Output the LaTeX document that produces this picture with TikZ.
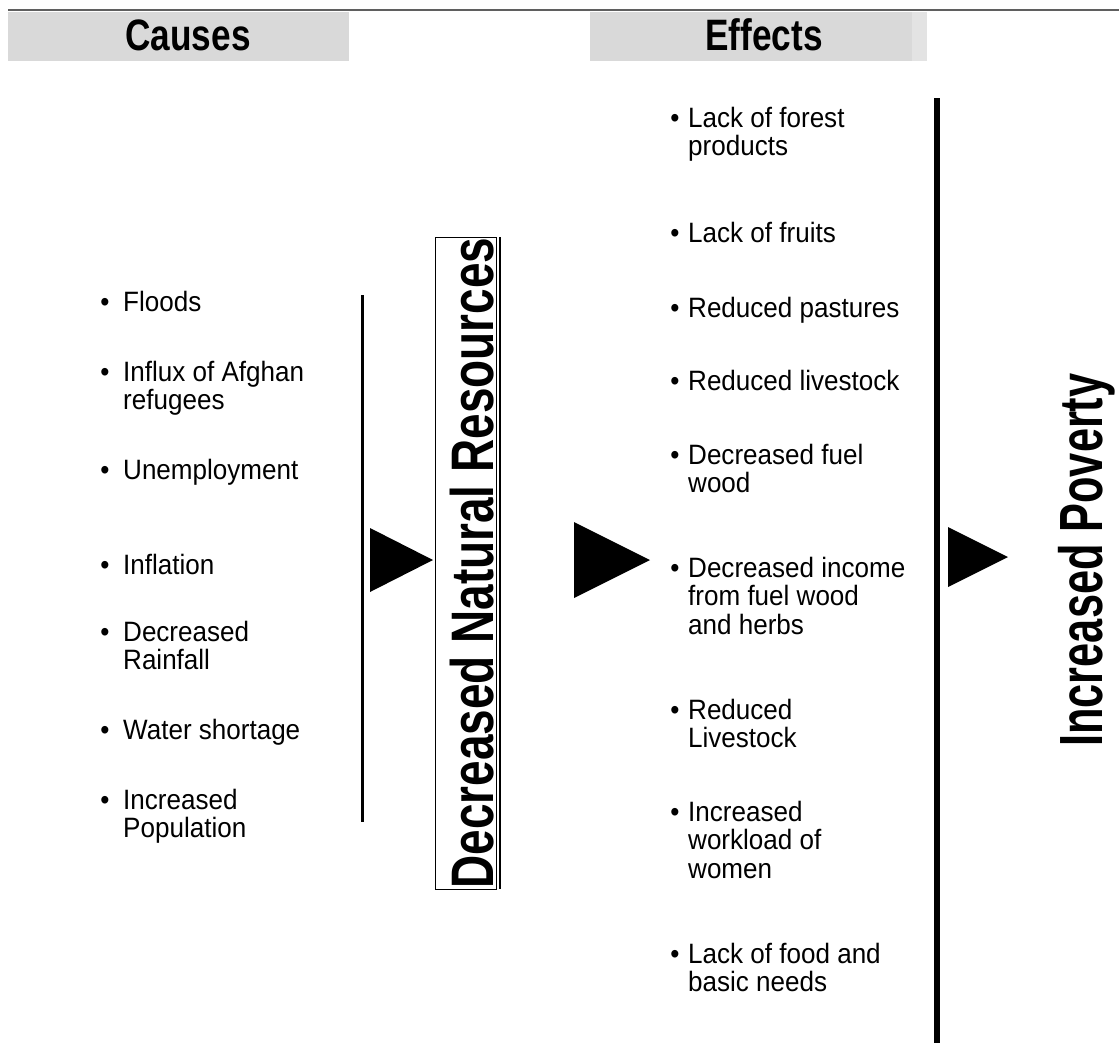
\documentclass[tikz,border=0pt]{standalone}
\usepackage{fontspec}
\setmainfont{Liberation Sans}
\newfontfamily\bodyfont[FakeStretch=0.93]{Liberation Sans}
\newfontfamily\headfont[FakeStretch=0.8]{Liberation Sans}
\newfontfamily\vertfont[FakeStretch=0.765]{Liberation Sans}
\newfontfamily\povfont[FakeStretch=0.71]{Liberation Sans}
\definecolor{hdrgray}{HTML}{D9D9D9}
\definecolor{hdrlight}{HTML}{E3E3E3}
\definecolor{rulegray}{HTML}{5F5F5F}
% stacked lines of one list entry, baseline on the first line
\newcommand{\entrylines}[1]{\begin{tabular}[t]{@{}l@{}}#1\end{tabular}}
\begin{document}
\begin{tikzpicture}[x=1pt,y=-1pt,
  item/.style={anchor=base west, inner sep=0pt,
    font={\bodyfont\fontsize{28}{28.5}\selectfont}},
  dot/.style={anchor=base, inner sep=0pt,
    font={\bodyfont\fontsize{28}{28.5}\selectfont}},
  header/.style={anchor=base, inner sep=0pt,
    font={\headfont\bfseries\fontsize{44}{48}\selectfont}},
  arrowhead/.style={fill=black, draw=none}]
\useasboundingbox (0,0) rectangle (1119,1063);

% top rule and column headers
\draw[rulegray, line width=2pt] (8,9.5) -- (1119,9.5);
\fill[hdrgray] (8,12) rectangle (349,61);
\fill[hdrgray] (590,12) rectangle (912,61);
\fill[hdrlight] (912,12) rectangle (927,61);
\node[header] (hcauses) at (188,50) {Causes};
\node[header] (heffects) at (764,50) {Effects};

% causes list
\node[item] (c1) at (123,311) {Floods};
\node[item] (c2) at (123,381) {\entrylines{Influx of Afghan\\refugees}};
\node[item] (c3) at (123,479) {Unemployment};
\node[item] (c4) at (123,574) {Inflation};
\node[item] (c5) at (123,641) {\entrylines{Decreased\\Rainfall}};
\node[item] (c6) at (123,739) {Water shortage};
\node[item] (c7) at (123,809) {\entrylines{Increased\\Population}};
\foreach \y/\n in {311/1,381/2,479/3,574/4,641/5,739/6,809/7}
  \node[dot] (cb\n) at (105,\y) {•};

% bracket line closing the causes
\draw[line width=3.5pt] (362.5,295) -- (362.5,822);

% central box
\draw[line width=1pt] (435.5,237) rectangle (496,889);
\draw[line width=2pt] (500,237) -- (500,889);
\node[rotate=90, anchor=base, inner sep=0pt,
  font={\vertfont\bfseries\fontsize{60}{66}\selectfont}] (dnr) at (493,563)
  {Decreased Natural Resources};

% effects list
\node[item] (e1) at (688,127) {\entrylines{Lack of forest\\products}};
\node[item] (e2) at (688,242) {Lack of fruits};
\node[item] (e3) at (688,317) {Reduced pastures};
\node[item] (e4) at (688,390) {Reduced livestock};
\node[item] (e5) at (688,464) {\entrylines{Decreased fuel\\wood}};
\node[item] (e6) at (688,577) {\entrylines{Decreased income\\from fuel wood\\and herbs}};
\node[item] (e7) at (688,719) {\entrylines{Reduced\\Livestock}};
\node[item] (e8) at (688,821) {\entrylines{Increased\\workload of\\women}};
\node[item] (e9) at (688,963) {\entrylines{Lack of food and\\basic needs}};
\foreach \y/\n in {127/1,242/2,317/3,390/4,464/5,577/6,719/7,821/8,963/9}
  \node[dot] (eb\n) at (675,\y) {•};

% bracket line closing the effects
\draw[line width=6pt] (937,98) -- (937,1043);

\node[rotate=90, anchor=base, inner sep=0pt,
  font={\povfont\bfseries\fontsize{61}{66}\selectfont}] (pov) at (1102,560)
  {Increased Poverty};

% arrowheads between the stages
\fill[arrowhead] (370,528) -- (433,560) -- (370,592) -- cycle;
\fill[arrowhead] (574,522) -- (650,560) -- (574,598) -- cycle;
\fill[arrowhead] (948,527) -- (1008,557) -- (948,587) -- cycle;
\end{tikzpicture}
\end{document}
